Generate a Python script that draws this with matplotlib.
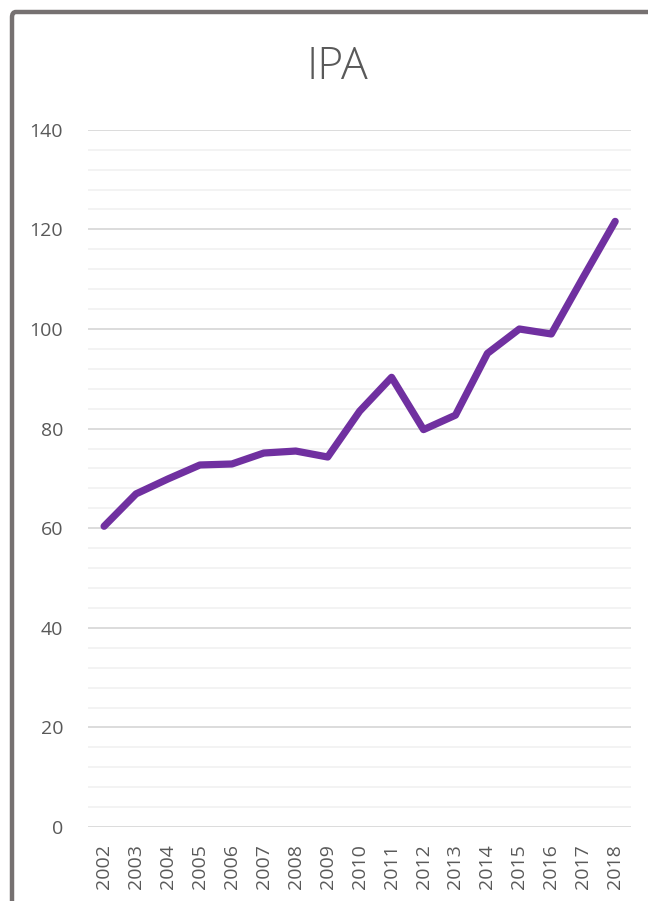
import matplotlib
matplotlib.use('Agg')
import matplotlib.pyplot as plt
from matplotlib.patches import FancyBboxPatch
import numpy as np

years = [str(y) for y in range(2002, 2019)]
ipa = [60.4, 66.9, 69.9, 72.7, 72.9, 75.1, 75.5, 74.3, 83.5, 90.3,
       79.8, 82.7, 95.1, 100.0, 99.0, 110.4, 121.6]

plt.rcParams['font.family'] = ['Open Sans', 'DejaVu Sans']

fig = plt.figure(figsize=(6.48, 9.01), dpi=100)
ax = fig.add_axes([0.136, 0.082, 0.838, 0.774])

x = np.arange(len(years))
ax.plot(x, ipa, color='#7030A0', lw=5.2, solid_capstyle='round',
        solid_joinstyle='round', zorder=3)

ax.set_xlim(-0.5, len(years) - 0.5)
ax.set_ylim(0, 140)
ax.set_yticks(np.arange(0, 141, 20))
ax.set_yticks(np.arange(0, 141, 4), minor=True)
ax.grid(True, which='major', axis='y', color='#d9d9d9', lw=1.3)
ax.grid(True, which='minor', axis='y', color='#f2f2f2', lw=1.3)
ax.set_axisbelow(True)
ax.set_xticks(x)
ax.set_xticklabels(years, rotation=90)
ax.tick_params(axis='both', which='both', length=0, labelsize=14,
               labelcolor='#595959')
ax.tick_params(axis='x', pad=12)
ax.tick_params(axis='y', pad=18)
for s in ax.spines.values():
    s.set_visible(False)

fig.text(0.52, 0.9245, 'IPA', ha='center', va='center', fontsize=32,
         color='#595959', fontweight='light')

# outer frame of the chart object (cut off at right and bottom)
frame = FancyBboxPatch((12 / 648, -0.05), 1.0, 1.05 - 12 / 901,
                       boxstyle='round,pad=0,rounding_size=0.006',
                       transform=fig.transFigure, fill=False,
                       edgecolor='#767171', lw=3.2, clip_on=False)
fig.patches.append(frame)

plt.savefig('out.png', dpi=100)
